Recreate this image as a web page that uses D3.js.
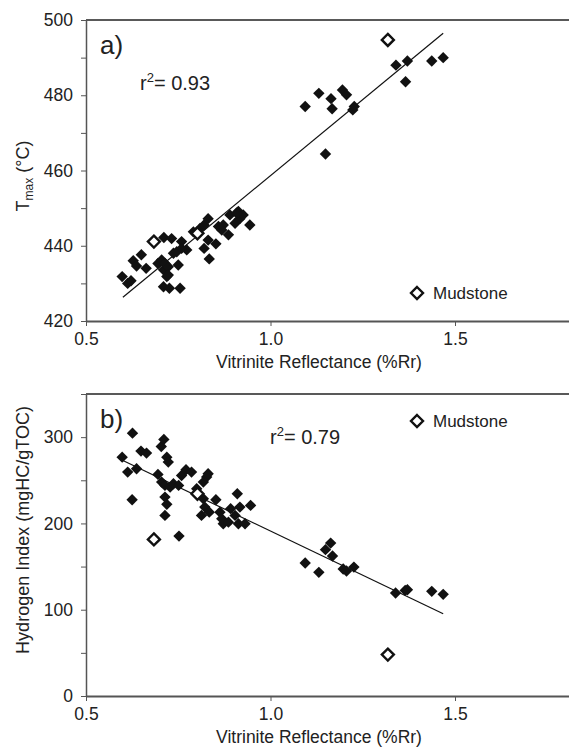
<!DOCTYPE html>
<html>
<head>
<meta charset="utf-8">
<script src="https://cdn.jsdelivr.net/npm/d3@7"></script>
<style>
  body { margin: 0; background: #fff; }
  svg { font-family: "Liberation Sans", Arial, sans-serif; }
  .axis path, .axis line { stroke: #555; }
  .axis text { font-size: 17.5px; fill: #222; }
</style>
</head>
<body>
<div id="chart"></div>
<script>
// ---- data ----
// panel a: Tmax vs vitrinite reflectance (coal samples)
const vrA = [0.598, 0.613, 0.622, 0.628, 0.637, 0.650, 0.663, 0.695, 0.705, 0.710,
             0.714, 0.711, 0.723, 0.719, 0.723, 0.732, 0.710, 0.726, 0.755, 0.750,
             0.737, 0.746, 0.759, 0.773, 0.759, 0.791, 0.809, 0.820, 0.831, 0.820,
             0.831, 0.834, 0.852, 0.859, 0.872, 0.868, 0.886, 0.890, 0.904, 0.913,
             0.917, 0.926, 0.908, 0.944,
             1.094, 1.131, 1.164, 1.167, 1.195, 1.206, 1.223, 1.227, 1.149, 1.340,
             1.371, 1.366, 1.437, 1.468];
const tmaxA = [431.8, 430.0, 430.7, 436.0, 434.6, 437.6, 434.0, 435.3, 436.2, 433.6,
               435.3, 442.2, 434.4, 431.8, 432.2, 441.9, 429.1, 428.7, 428.7, 434.9,
               438.0, 438.4, 441.1, 438.9, 439.3, 443.7, 444.6, 445.5, 447.2, 439.3,
               441.5, 436.5, 440.5, 445.1, 445.5, 444.2, 442.9, 448.2, 446.0, 449.1,
               447.2, 448.2, 448.7, 445.5,
               477.0, 480.5, 479.1, 476.4, 481.4, 480.1, 476.1, 477.0, 464.4, 488.0,
               489.1, 483.6, 489.1, 490.0];
// mudstone samples
const mudVr = [0.684, 0.802, 1.318];
const mudTmax = [441.1, 443.3, 494.7];
const mudHI = [181.5, 234.4, 48.0];
// fitted lines (end points)
const fitA = [[0.600, 426.3], [1.468, 496.5]];
const fitB = [[0.600, 273.0], [1.468, 95.4]];

// panel b: hydrogen index vs vitrinite reflectance
const vrB = [0.598, 0.613, 0.626, 0.625, 0.637, 0.649, 0.664, 0.695, 0.704, 0.711,
             0.719, 0.723, 0.705, 0.714, 0.728, 0.714, 0.719, 0.714, 0.752, 0.737,
             0.751, 0.759, 0.771, 0.786, 0.800, 0.813, 0.818, 0.822, 0.834, 0.827,
             0.831, 0.818, 0.852, 0.863, 0.872, 0.868, 0.886, 0.892, 0.904, 0.910,
             0.913, 0.917, 0.931, 0.946,
             1.094, 1.131, 1.149, 1.163, 1.168, 1.197, 1.206, 1.226, 1.339, 1.365,
             1.371, 1.437, 1.468];
const hiB = [276.8, 259.5, 304.6, 227.5, 263.4, 283.8, 281.5, 256.8, 289.2, 297.4,
             276.8, 271.1, 247.9, 244.1, 242.1, 230.5, 222.1, 209.3, 185.3, 246.0,
             244.1, 255.6, 262.2, 259.5, 240.2, 209.3, 228.6, 218.9, 213.1, 253.7,
             257.6, 247.9, 227.5, 213.1, 199.7, 205.5, 201.5, 217.1, 209.3, 234.4,
             199.7, 218.9, 199.7, 220.9,
             154.1, 143.3, 169.6, 177.2, 162.2, 147.1, 144.8, 149.4, 119.3, 122.4,
             123.2, 121.3, 117.8];

const xTicks = [0.5, 1.0, 1.5];
const yTicksA = [420, 430, 440, 450, 460, 470, 480, 490, 500];
const yTicksB = [0, 50, 100, 150, 200, 250, 300, 350];

// ---- drawing ----
const W = 569, H = 747;
const svg = d3.select("#chart").append("svg")
    .attr("width", W).attr("height", H);

const left = 86;
const x = d3.scaleLinear().domain([0.5, 1.81]).range([left, left + 1.31 * 369]);

function diamond(r) {
    return `M0,${-r}L${r},0L0,${r}L${-r},0Z`;
}

function drawPanel(cfg) {
    const g = svg.append("g");
    const y = d3.scaleLinear().domain(cfg.yDomain).range([cfg.bottom, cfg.top]);

    // top frame line
    g.append("line")
        .attr("x1", left).attr("x2", W)
        .attr("y1", cfg.top).attr("y2", cfg.top)
        .attr("stroke", "#222").attr("stroke-width", 1.5);

    // x axis
    const xa = g.append("g").attr("class", "axis")
        .attr("transform", `translate(0,${cfg.bottom})`)
        .call(d3.axisBottom(x).tickValues(xTicks).tickFormat(d3.format(".1f"))
            .tickSize(5).tickSizeOuter(0).tickPadding(7));
    xa.select(".domain").attr("stroke-width", 2);

    // y axis
    const ya = g.append("g").attr("class", "axis")
        .attr("transform", `translate(${left},0)`)
        .call(d3.axisLeft(y).tickValues(cfg.yTicks)
            .tickFormat(d => (d % cfg.labelStep === 0 ? d : ""))
            .tickSize(5).tickSizeOuter(0).tickPadding(8));
    ya.select(".domain").attr("stroke-width", 1.5);

    // x axis title
    g.append("text")
        .attr("x", 319).attr("y", cfg.bottom + 47)
        .attr("text-anchor", "middle")
        .attr("font-size", 17.5).attr("fill", "#222")
        .text("Vitrinite Reflectance (%Rr)");

    // y axis title
    const yt = g.append("text")
        .attr("transform", `translate(29,${cfg.yTitleY}) rotate(-90)`)
        .attr("text-anchor", "middle")
        .attr("font-size", 18).attr("fill", "#222");
    cfg.yTitle(yt);

    // panel letter
    g.append("text")
        .attr("x", 100).attr("y", cfg.top + 34)
        .attr("font-size", 26).attr("fill", "#222")
        .text(cfg.letter);

    // r squared
    const rt = g.append("text")
        .attr("x", cfg.rPos[0]).attr("y", cfg.rPos[1])
        .attr("font-size", 20).attr("fill", "#222");
    rt.append("tspan").text("r");
    rt.append("tspan").attr("font-size", 13).attr("dy", -8).text("2");
    rt.append("tspan").attr("dy", 8).text("= " + cfg.r2);

    // fit line
    g.append("line")
        .attr("x1", x(cfg.fit[0][0])).attr("y1", y(cfg.fit[0][1]))
        .attr("x2", x(cfg.fit[1][0])).attr("y2", y(cfg.fit[1][1]))
        .attr("stroke", "#111").attr("stroke-width", 1.2);

    // coal points
    g.selectAll(".pt").data(cfg.xs)
        .enter().append("path")
        .attr("class", "pt")
        .attr("d", diamond(5.7))
        .attr("transform", (d, i) => `translate(${x(d)},${y(cfg.ys[i])})`)
        .attr("fill", "#111");

    // mudstone points
    g.selectAll(".mud").data(mudVr)
        .enter().append("path")
        .attr("class", "mud")
        .attr("d", diamond(6))
        .attr("transform", (d, i) => `translate(${x(d)},${y(cfg.mud[i])})`)
        .attr("fill", "#fff").attr("stroke", "#111").attr("stroke-width", 2.4);

    // legend
    g.append("path")
        .attr("d", diamond(6))
        .attr("transform", `translate(417,${cfg.legendY})`)
        .attr("fill", "#fff").attr("stroke", "#111").attr("stroke-width", 2.4);
    g.append("text")
        .attr("x", 433).attr("y", cfg.legendY + 6)
        .attr("font-size", 17).attr("fill", "#222")
        .text("Mudstone");
}

drawPanel({
    top: 20, bottom: 321, yDomain: [420, 500], yTicks: yTicksA, labelStep: 20,
    xs: vrA, ys: tmaxA, mud: mudTmax, fit: fitA,
    letter: "a)", r2: "0.93", rPos: [140, 90], legendY: 293, yTitleY: 176,
    yTitle: t => {
        t.append("tspan").text("T");
        t.append("tspan").attr("font-size", 12).attr("dy", 4).text("max");
        t.append("tspan").attr("dy", -4).text(" (°C)");
    }
});

drawPanel({
    top: 394, bottom: 696, yDomain: [0, 350], yTicks: yTicksB, labelStep: 100,
    xs: vrB, ys: hiB, mud: mudHI, fit: fitB,
    letter: "b)", r2: "0.79", rPos: [270, 444], legendY: 421, yTitleY: 530,
    yTitle: t => t.text("Hydrogen Index (mgHC/gTOC)")
});
</script>
</body>
</html>
